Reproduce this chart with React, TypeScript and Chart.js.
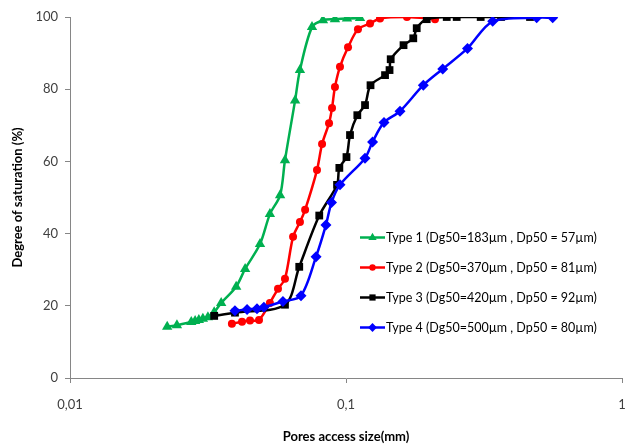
import React, { useEffect, useRef } from "react";
import { Chart, registerables } from "chart.js";

Chart.register(...registerables);

const seriesLabels = [
  "Type 1 (Dg50=183µm , Dp50 = 57µm)",
  "Type 2 (Dg50=370µm , Dp50 = 81µm)",
  "Type 3 (Dg50=420µm , Dp50 = 92µm)",
  "Type 4 (Dg50=500µm , Dp50 = 80µm)",
];

const type1X = [0.0225, 0.0244, 0.0275, 0.0284, 0.0293, 0.0303, 0.0316, 0.0333, 0.0353, 0.04, 0.0431, 0.0488, 0.053, 0.0577, 0.0601, 0.0654, 0.0681, 0.0753, 0.0825, 0.0912, 0.1008, 0.1124];
const type1Y = [14.2, 14.6, 15.5, 15.8, 16.1, 16.4, 16.8, 18.2, 20.8, 25.3, 30.2, 37.1, 45.4, 50.6, 60.3, 76.9, 85.3, 97.2, 99.1, 99.4, 99.6, 99.7];

const type2X = [0.0386, 0.042, 0.0449, 0.0484, 0.053, 0.0567, 0.0601, 0.0643, 0.0681, 0.0711, 0.0785, 0.0819, 0.0868, 0.089, 0.0912, 0.0951, 0.1017, 0.1105, 0.1222, 0.1328, 0.1663, 0.2101];
const type2Y = [15.0, 15.6, 15.9, 16.1, 20.8, 24.7, 27.5, 39.1, 43.2, 46.6, 57.6, 64.8, 70.6, 74.8, 80.6, 86.2, 91.6, 96.6, 98.2, 99.6, 100, 99.4];

const type3X = [0.0333, 0.0396, 0.0601, 0.0677, 0.08, 0.0928, 0.0946, 0.1004, 0.1034, 0.1099, 0.1172, 0.1227, 0.1385, 0.1438, 0.1452, 0.1616, 0.1753, 0.1804, 0.1961, 0.2317, 0.2518, 0.3076, 0.3645, 0.4642];
const type3Y = [17.2, 18.1, 20.3, 30.8, 45.0, 53.5, 58.2, 61.2, 67.3, 72.8, 75.6, 81.1, 83.9, 85.3, 88.3, 92.2, 94.1, 96.9, 99.4, 100, 100, 100, 100, 100];

const type4X = [0.0396, 0.0438, 0.0476, 0.0504, 0.0591, 0.0687, 0.0779, 0.0846, 0.0886, 0.0951, 0.1172, 0.1248, 0.1373, 0.1569, 0.1906, 0.2241, 0.2755, 0.34, 0.4908, 0.5609];
const type4Y = [18.6, 19.0, 19.2, 19.6, 21.2, 22.8, 33.6, 42.4, 48.6, 53.5, 60.9, 65.4, 70.8, 73.9, 81.1, 85.6, 91.3, 98.8, 99.8, 99.8];

const xTickValues = [0.01, 0.1, 1];
const xTickLabels = ["0,01", "0,1", "1"];
const yTickValues = [0, 20, 40, 60, 80, 100];

const xTitle = "Pores access size(mm)";
const yTitle = "Degree of saturation (%)";

const seriesColors = ["#00B050", "#FF0000", "#000000", "#0000FF"];
const seriesMarkers = ["triangle", "circle", "rect", "rectRot"];
const seriesRadius = [6, 4, 5.5, 5.5];

const FONT = "Lato, 'Open Sans', sans-serif";

function zip(xs: number[], ys: number[]) {
  return xs.map((x, i) => ({ x, y: ys[i] }));
}

function drawMarker(ctx: CanvasRenderingContext2D, style: string, x: number, y: number, r: number) {
  ctx.beginPath();
  if (style === "triangle") {
    for (let k = 0; k < 3; k++) {
      const a = (k * 2 * Math.PI) / 3;
      const px = x + Math.sin(a) * r;
      const py = y - Math.cos(a) * r;
      if (k === 0) ctx.moveTo(px, py);
      else ctx.lineTo(px, py);
    }
    ctx.closePath();
  } else if (style === "circle") {
    ctx.arc(x, y, r, 0, Math.PI * 2);
  } else if (style === "rect") {
    const s = Math.SQRT1_2 * r;
    ctx.rect(x - s, y - s, 2 * s, 2 * s);
  } else {
    ctx.moveTo(x, y - r);
    ctx.lineTo(x + r, y);
    ctx.lineTo(x, y + r);
    ctx.lineTo(x - r, y);
    ctx.closePath();
  }
  ctx.fill();
}

const legendPlugin = {
  id: "insideLegend",
  afterDraw(chart: any) {
    const ctx: CanvasRenderingContext2D = chart.ctx;
    const area = chart.chartArea;
    const lineX0 = area.left + 290;
    const lineX1 = lineX0 + 25;
    const textX = lineX1 + 1;
    const rowY0 = area.top + 220.5;
    const rowGap = 30;
    ctx.save();
    chart.data.datasets.forEach((ds: any, i: number) => {
      const y = rowY0 + i * rowGap;
      ctx.strokeStyle = ds.borderColor;
      ctx.lineWidth = 2.5;
      ctx.beginPath();
      ctx.moveTo(lineX0, y);
      ctx.lineTo(lineX1, y);
      ctx.stroke();
      ctx.fillStyle = ds.borderColor;
      drawMarker(ctx, ds.pointStyle, (lineX0 + lineX1) / 2, y, ds.pointRadius * 0.8);
      ctx.fillStyle = "#000000";
      ctx.font = `12.5px ${FONT}`;
      ctx.textBaseline = "middle";
      ctx.textAlign = "left";
      ctx.fillText(ds.label, textX, y);
    });
    ctx.restore();
  },
};

export default function App() {
  const canvasRef = useRef<HTMLCanvasElement | null>(null);

  useEffect(() => {
    document.body.style.margin = "0";
    const canvas = canvasRef.current;
    if (!canvas) return;
    const seriesX = [type1X, type2X, type3X, type4X];
    const seriesY = [type1Y, type2Y, type3Y, type4Y];
    const datasets = seriesLabels.map((label, i) => ({
      label,
      data: zip(seriesX[i], seriesY[i]),
      borderColor: seriesColors[i],
      backgroundColor: seriesColors[i],
      pointBackgroundColor: seriesColors[i],
      pointBorderColor: seriesColors[i],
      pointBorderWidth: 0,
      pointStyle: seriesMarkers[i],
      pointRadius: seriesRadius[i],
      borderWidth: 2.5,
      tension: 0.3,
      fill: false,
      order: 4 - i,
    }));

    const chart = new Chart(canvas, {
      type: "line",
      data: { datasets },
      plugins: [legendPlugin],
      options: {
        animation: false,
        responsive: false,
        devicePixelRatio: 1,
        layout: { padding: { left: 0, right: 8, top: 17, bottom: 0 } },
        plugins: {
          legend: { display: false },
          tooltip: { enabled: false },
        },
        scales: {
          x: {
            type: "logarithmic",
            min: 0.01,
            max: 1,
            afterBuildTicks: (scale: any) => {
              scale.ticks = xTickValues.map((v) => ({ value: v }));
            },
            afterFit: (scale: any) => {
              scale.height = 67;
              scale.paddingLeft = 12;
              scale.paddingRight = 4;
            },
            ticks: {
              autoSkip: false,
              maxRotation: 0,
              padding: 14,
              color: "#404040",
              font: { family: FONT, size: 13 },
              callback: (value: any) => {
                const idx = xTickValues.findIndex((v) => Math.abs(v - Number(value)) < 1e-9);
                return idx >= 0 ? xTickLabels[idx] : "";
              },
            },
            grid: {
              drawOnChartArea: false,
              drawTicks: true,
              tickLength: 5,
              color: "#868686",
            },
            border: { color: "#868686", width: 1 },
            title: {
              display: true,
              text: xTitle,
              color: "#000000",
              font: { family: FONT, size: 13, weight: "bold" },
              padding: { top: 0, bottom: 0 },
            },
          },
          y: {
            type: "linear",
            min: 0,
            max: 100,
            afterBuildTicks: (scale: any) => {
              scale.ticks = yTickValues.map((v) => ({ value: v }));
            },
            afterFit: (scale: any) => {
              scale.width = 70;
            },
            ticks: {
              padding: 7,
              color: "#404040",
              font: { family: FONT, size: 13 },
            },
            grid: {
              drawOnChartArea: false,
              drawTicks: true,
              tickLength: 5,
              color: "#868686",
            },
            border: { color: "#868686", width: 1 },
            title: {
              display: true,
              text: yTitle,
              color: "#000000",
              font: { family: FONT, size: 13, weight: "bold" },
              padding: { top: 10, bottom: 0 },
            },
          },
        },
      },
    } as any);

    return () => chart.destroy();
  }, []);

  return (
    <div style={{ width: 630, height: 445 }}>
      <canvas ref={canvasRef} width={630} height={445} style={{ display: "block" }} />
    </div>
  );
}
